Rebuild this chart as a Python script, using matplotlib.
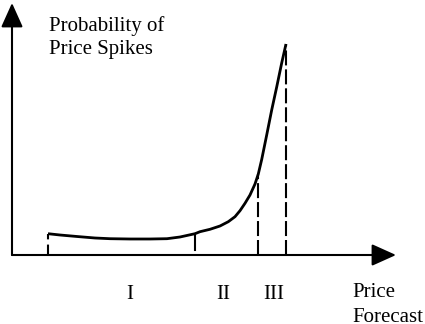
import matplotlib
matplotlib.use('Agg')
import matplotlib.pyplot as plt

# Probability of a price spike along the price forecast (schematic curve).
forecast = [36, 48, 65, 83, 98, 118, 138, 155, 168, 183, 188, 198, 208,
            216.3, 223, 228, 233, 238, 243, 246.3, 249.7, 254.7, 259.7,
            264.7, 269.7, 274]
probability = [21.3, 20, 18.5, 17, 16.3, 16, 16, 16.3, 18, 21.3, 23.3, 25.7,
               29, 33.3, 38.3, 44.3, 51.7, 60, 71, 81, 95.5, 120, 145, 168,
               192, 211]

# Region boundaries on the forecast axis (all on the curve)
start_x = 36
bound_i_ii = 183
bound_ii_iii = 246.3
end_x = 274

region_labels = ['I', 'II', 'III']
region_label_x = [118, 211, 261.7]

plt.rcParams['font.family'] = ['Liberation Serif', 'DejaVu Serif']

fig = plt.figure(figsize=(4.25, 3.24), dpi=100)
ax = fig.add_axes([0, 0, 1, 1])
ax.set_xlim(-12, 413)
ax.set_ylim(-69, 255)
ax.axis('off')

# Axes with filled arrow heads
arrow = dict(arrowstyle='-|>,head_length=1.0,head_width=0.45',
             mutation_scale=15, lw=1.5, color='black', shrinkA=0, shrinkB=0)
ax.annotate('', xy=(0, 252), xytext=(0, 0), arrowprops=arrow)
ax.annotate('', xy=(384, 0), xytext=(0, 0), arrowprops=arrow)

ax.plot(forecast, probability, color='black', lw=2.0,
        solid_joinstyle='round', solid_capstyle='butt')

y_start = probability[0]
y_end = probability[-1]
y_b1 = probability[forecast.index(bound_i_ii)]
y_b2 = probability[forecast.index(bound_ii_iii)]

dash = (0, (7.2, 1.9))
ax.plot([start_x, start_x], [0, y_start], color='black', lw=1.5,
        linestyle=(0, (5, 2.5)))
ax.plot([bound_i_ii, bound_i_ii], [5, y_b1], color='black', lw=1.5)
ax.plot([bound_ii_iii, bound_ii_iii], [0, y_b2], color='black', lw=1.5,
        linestyle=dash)
ax.plot([end_x, end_x], [0, y_end], color='black', lw=1.5, linestyle=dash)

fs = 15
ax.text(37, 224.3, 'Probability of', fontsize=fs, va='baseline', ha='left')
ax.text(37, 200.7, 'Price Spikes', fontsize=fs, va='baseline', ha='left')
for lab, x in zip(region_labels, region_label_x):
    ax.text(x, -44.3, lab, fontsize=fs, va='baseline', ha='center')
ax.text(340.5, -41.7, 'Price', fontsize=fs, va='baseline', ha='left')
ax.text(340.5, -67.5, 'Forecast', fontsize=fs, va='baseline', ha='left')

fig.savefig('out.png', dpi=100)
